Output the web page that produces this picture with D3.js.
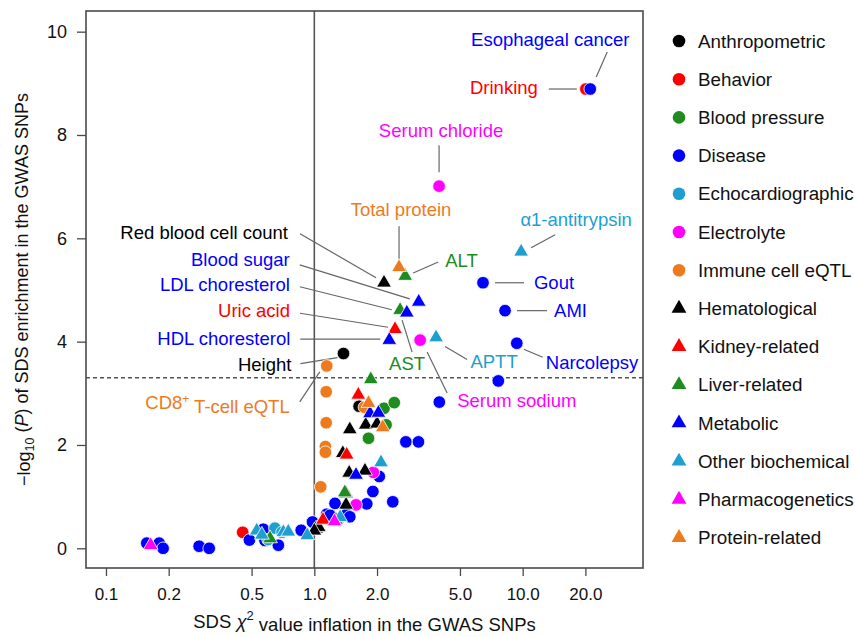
<!DOCTYPE html>
<html><head><meta charset="utf-8">
<script src="https://cdnjs.cloudflare.com/ajax/libs/d3/7.8.5/d3.min.js"></script>
<style>
body{margin:0;background:#fff;}
text{font-family:"Liberation Sans",Arial,Helvetica,sans-serif;}
</style></head>
<body><svg id="chart" width="855" height="637"></svg>
<script>
// ---------- data ----------
const categories = ["Anthropometric","Behavior","Blood pressure","Disease","Echocardiographic","Electrolyte","Immune cell eQTL","Hematological","Kidney-related","Liver-related","Metabolic","Other biochemical","Pharmacogenetics","Protein-related"];
const xTicks = [0.1,0.2,0.5,1.0,2.0,5.0,10.0,20.0];
const xTickLabels = ["0.1","0.2","0.5","1.0","2.0","5.0","10.0","20.0"];
const yTicks = [0,2,4,6,8,10];
const threshold = 3.3;

const anthropometric = [[1.38,3.77],[1.64,2.75]];
const behavior = [[20.1,8.89],[0.453,0.31]];
const bloodPressure = [[2.16,2.71],[2.42,2.82],[2.21,2.39],[1.82,2.13]];
const disease = [[21.1,8.89],[6.45,5.14],[8.23,4.60],[9.37,3.97],[7.64,3.24],[3.98,2.83],[2.75,2.06],[3.16,2.06],[2.05,1.39],[1.91,1.10],[2.38,0.90],[1.785,0.86],[1.257,0.87],[1.147,0.66],[1.19,0.64],[1.43,0.66],[1.48,0.61],[0.98,0.51],[0.865,0.35],[0.569,0.37],[0.488,0.16],[0.58,0.15],[0.672,0.06],[0.157,0.10],[0.180,0.10],[0.188,0.0],[0.28,0.04],[0.313,0.0]];
const echocardiographic = [[0.647,0.39],[0.60,0.17],[0.70,0.31]];
const electrolyte = [[3.97,7.01],[3.22,4.03],[1.92,1.47],[1.585,0.84],[1.30,0.55]];
const immuneCell = [[1.147,3.53],[1.14,3.03],[1.14,2.43],[1.13,1.97],[1.13,1.86],[1.073,1.19],[1.74,2.73]];
const hematological = [[2.16,5.14],[1.48,2.30],[1.765,2.39],[2.0,2.41],[1.37,1.84],[1.47,1.46],[1.75,1.50],[1.42,1.06],[1.42,0.84],[1.02,0.38],[1.05,0.41],[1.0,0.34]];
const kidney = [[2.44,4.24],[1.626,2.97],[1.43,1.81],[1.10,0.55]];
const liver = [[2.73,5.27],[2.58,4.61],[1.866,3.27],[1.40,1.08],[1.27,0.55],[0.613,0.19]];
const metabolic = [[3.17,4.77],[2.78,4.56],[2.29,4.03],[1.85,2.61],[2.03,2.62],[1.585,1.42]];
const otherBiochemical = [[9.83,5.74],[3.84,4.08],[2.09,1.66],[1.33,0.60],[0.925,0.25],[0.529,0.34],[0.56,0.26],[0.71,0.31],[0.75,0.32]];
const pharmacogenetics = [[0.164,0.06],[1.25,0.52]];
const proteinRelated = [[2.55,5.44],[1.82,2.81],[2.13,2.34]];

const seriesValues = [anthropometric,behavior,bloodPressure,disease,echocardiographic,electrolyte,immuneCell,hematological,kidney,liver,metabolic,otherBiochemical,pharmacogenetics,proteinRelated];

const labelTexts = ["Esophageal cancer","Drinking","Serum chloride","Total protein","α1-antitrypsin","ALT","Gout","AMI","Narcolepsy","APTT","Serum sodium","AST","Red blood cell count","Blood sugar","LDL choresterol","Uric acid","HDL choresterol","Height","CD8+ T-cell eQTL"];
const labelPoints = [[21.1,8.89],[20.1,8.89],[3.97,7.01],[2.55,5.44],[9.83,5.74],[2.73,5.27],[6.45,5.14],[8.23,4.60],[9.37,3.97],[3.84,4.08],[3.22,4.03],[2.58,4.61],[2.16,5.14],[3.17,4.77],[2.78,4.56],[2.44,4.24],[2.29,4.03],[1.38,3.77],[1.147,3.53]];

// ---------- styling / layout ----------
const colors = ["#000000","#ff0000","#1e8c1e","#0000ff","#1e9fd0","#ff00ff","#ee7a1e","#000000","#ff0000","#1e8c1e","#0000ff","#1e9fd0","#ff00ff","#ee7a1e"];
const isTriangle = i => i >= 7;
const labelColors = ["#0000ff","#ff0000","#ff00ff","#ee7a1e","#1e9fd0","#1e8c1e","#0000ff","#0000ff","#0000ff","#1e9fd0","#ff00ff","#1e8c1e","#000000","#0000ff","#0000ff","#ff0000","#0000ff","#000000","#ee7a1e"];
// [dx, dy, anchor, lx1, ly1, lx2, ly2] pixel offsets from the labelled point
const labelLayout = [
  [-40,-49,"middle", 6,-12, 17,-37],
  [-48,-1,"end", -37,0, -9,0],
  [2,-56,"middle", 0,-41, 0,-14],
  [2,-58,"middle", 0,-41, 0,-7],
  [55,-32,"middle", 10,-4, 34,-17],
  [40,-16,"start", 8,-3, 33,-14],
  [51,0,"start", 12,0, 41,0],
  [49,0,"start", 12,0, 42,0],
  [29,19,"start", 7,6, 26,14],
  [58,24,"middle", 9,9, 31,22],
  [37,60,"start", 7,12, 27,53],
  [7,53,"middle", 2,10, 12,42],
  [-96,-50,"end", -84,-49, -8,-5],
  [-129,-42,"end", -119,-37, -9,-3],
  [-117,-28,"end", -107,-26, -15,-3],
  [-105,-19,"end", -95,-16, -7,-2],
  [-99,-2,"end", -89,-1, -9,-1],
  [-52,11,"end", -43,10, -6,4],
  [-37,37,"end", -27,36, -7,6]
];

const svg = d3.select("#chart");
const L = 86, R = 643, T = 11, B = 568;
const x = d3.scaleLog().domain([0.0802, 37.8]).range([L, R]);
const y = d3.scaleLinear().domain([-0.381, 10.40]).range([B, T]);

const grey = "#4a4a4a";

// reference lines
svg.append("line").attr("x1", x(1)).attr("x2", x(1)).attr("y1", T).attr("y2", B)
  .attr("stroke", "#555").attr("stroke-width", 1.6);
svg.append("line").attr("x1", L).attr("x2", R).attr("y1", y(threshold)).attr("y2", y(threshold))
  .attr("stroke", "#555").attr("stroke-width", 1.5).attr("stroke-dasharray", "4,3");

// axes
const xAxis = d3.axisBottom(x).tickValues(xTicks).tickFormat((d,i) => xTickLabels[i]).tickSize(8).tickPadding(12);
const gx = svg.append("g").attr("transform", `translate(0,${B})`).call(xAxis);
gx.select(".domain").remove();
gx.selectAll("line").attr("stroke", grey).attr("stroke-width", 1.3);
gx.selectAll("text").attr("font-size", 17).attr("fill", "#111").style("font-family", '"Liberation Sans",Arial,sans-serif');

const yAxis = d3.axisLeft(y).tickValues(yTicks).tickFormat(d3.format("d")).tickSize(9).tickPadding(10);
const gy = svg.append("g").attr("transform", `translate(${L},0)`).call(yAxis);
gy.select(".domain").remove();
gy.selectAll("line").attr("stroke", grey).attr("stroke-width", 1.3);
gy.selectAll("text").attr("font-size", 18).attr("fill", "#111").style("font-family", '"Liberation Sans",Arial,sans-serif');

// frame
svg.append("rect").attr("x", L).attr("y", T).attr("width", R - L).attr("height", B - T)
  .attr("fill", "none").attr("stroke", grey).attr("stroke-width", 1.6);

// leader lines
const lineG = svg.append("g");
labelPoints.forEach((p, i) => {
  const [dx, dy, a, x1, y1, x2, y2] = labelLayout[i];
  const px = x(p[0]), py = y(p[1]);
  lineG.append("line").attr("x1", px + x1).attr("y1", py + y1).attr("x2", px + x2).attr("y2", py + y2)
    .attr("stroke", "#666").attr("stroke-width", 1.2);
});

// points
const tri = d3.symbol().type(d3.symbolTriangle).size(95);
const ptG = svg.append("g");
seriesValues.forEach((vals, ci) => {
  const g = ptG.append("g");
  vals.forEach(d => {
    if (isTriangle(ci)) {
      g.append("path").attr("d", tri).attr("transform", `translate(${x(d[0])},${y(d[1])})`)
        .attr("fill", colors[ci]).attr("stroke", "#fff").attr("stroke-width", 0.8);
    } else {
      g.append("circle").attr("cx", x(d[0])).attr("cy", y(d[1])).attr("r", 6.3)
        .attr("fill", colors[ci]).attr("stroke", "#fff").attr("stroke-width", 0.8);
    }
  });
});

// labels
const labG = svg.append("g");
labelTexts.forEach((t, i) => {
  const p = labelPoints[i];
  const [dx, dy, a] = labelLayout[i];
  const tx = labG.append("text").attr("x", x(p[0]) + dx).attr("y", y(p[1]) + dy)
    .attr("dy", "0.35em").attr("text-anchor", a).attr("font-size", 18.5).attr("fill", labelColors[i]);
  if (t.startsWith("CD8+")) {
    tx.append("tspan").text("CD8");
    tx.append("tspan").text("+").attr("font-size", 12).attr("dy", "-0.55em");
    tx.append("tspan").text(" T-cell eQTL").attr("dy", "0.55em");
  } else {
    tx.text(t);
  }
});

// axis titles
const xt = svg.append("text").attr("x", (L + R) / 2).attr("y", 628).attr("text-anchor", "middle")
  .attr("font-size", 18.5).attr("fill", "#111");
xt.append("tspan").text("SDS ");
xt.append("tspan").text("χ").attr("font-style", "italic");
xt.append("tspan").text("2").attr("font-size", 13).attr("dy", "-0.6em");
xt.append("tspan").text(" value inflation in the GWAS SNPs").attr("dy", "0.6em");

const yt = svg.append("text").attr("transform", `translate(30,${(T + B) / 2}) rotate(-90)`)
  .attr("text-anchor", "middle").attr("font-size", 18).attr("fill", "#111");
yt.append("tspan").text("−log");
yt.append("tspan").text("10").attr("font-size", 12.5).attr("dy", "0.35em");
yt.append("tspan").text(" (").attr("dy", "-0.35em");
yt.append("tspan").text("P").attr("font-style", "italic");
yt.append("tspan").text(") of SDS enrichment in the GWAS SNPs");

// legend
const lg = svg.append("g");
categories.forEach((c, i) => {
  const cy = 41 + i * 38.2;
  if (isTriangle(i)) {
    lg.append("path").attr("d", tri).attr("transform", `translate(679,${cy})`).attr("fill", colors[i]);
  } else {
    lg.append("circle").attr("cx", 679).attr("cy", cy).attr("r", 6.3).attr("fill", colors[i]);
  }
  lg.append("text").attr("x", 698).attr("y", cy).attr("dy", "0.35em").attr("font-size", 18.8)
    .attr("fill", "#111").text(c);
});
</script>
</body></html>
